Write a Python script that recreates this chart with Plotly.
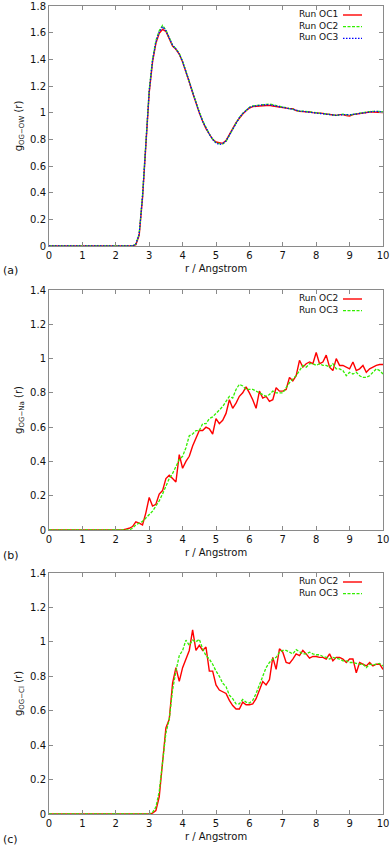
import plotly.graph_objects as go

# ---------------- data ----------------
r = [round(i * 0.1, 1) for i in range(101)]

# panel (a): g_OG-OW(r)
a_oc1 = [0]*26 + [
    0.01, 0.08, 0.36, 0.80, 1.15, 1.38, 1.52, 1.595, 1.625, 1.61,
    1.56, 1.50, 1.475, 1.44, 1.38, 1.31, 1.23, 1.15, 1.07, 1.00,
    0.935, 0.88, 0.84, 0.80, 0.78, 0.775, 0.77, 0.79, 0.83, 0.88,
    0.925, 0.96, 0.99, 1.015, 1.035, 1.045, 1.05, 1.05, 1.052, 1.055,
    1.055, 1.05, 1.045, 1.04, 1.04, 1.035, 1.03, 1.03, 1.015, 1.01,
    1.01, 1.005, 1.005, 1.0, 1.0, 0.995, 0.995, 0.99, 0.985, 0.985,
    0.98, 0.985, 0.985, 0.978, 0.975, 0.985, 0.99, 0.995, 1.0, 1.0,
    1.005, 1.005, 1.005, 1.0, 1.0]
a_oc2 = [0]*26 + [
    0.015, 0.09, 0.38, 0.82, 1.17, 1.40, 1.54, 1.615, 1.655, 1.62,
    1.565, 1.505, 1.48, 1.445, 1.385, 1.315, 1.235, 1.155, 1.075, 1.005,
    0.94, 0.885, 0.84, 0.80, 0.775, 0.768, 0.765, 0.785, 0.83, 0.885,
    0.93, 0.965, 0.995, 1.02, 1.04, 1.05, 1.055, 1.058, 1.06, 1.062,
    1.065, 1.06, 1.052, 1.045, 1.042, 1.038, 1.032, 1.028, 1.02, 1.012,
    1.012, 1.008, 1.005, 1.0, 0.998, 0.995, 0.993, 0.99, 0.985, 0.982,
    0.98, 0.983, 0.988, 0.985, 0.982, 0.988, 0.993, 0.998, 1.002, 1.005,
    1.008, 1.01, 1.012, 1.01, 1.005]
a_oc3 = [0]*26 + [
    0.015, 0.09, 0.37, 0.81, 1.16, 1.39, 1.53, 1.605, 1.645, 1.615,
    1.56, 1.505, 1.478, 1.44, 1.382, 1.312, 1.232, 1.152, 1.072, 1.0,
    0.935, 0.882, 0.838, 0.80, 0.772, 0.762, 0.768, 0.788, 0.832, 0.885,
    0.93, 0.963, 0.993, 1.018, 1.038, 1.048, 1.053, 1.055, 1.058, 1.06,
    1.06, 1.056, 1.05, 1.044, 1.04, 1.036, 1.03, 1.026, 1.018, 1.012,
    1.01, 1.006, 1.003, 1.0, 0.997, 0.994, 0.992, 0.988, 0.984, 0.982,
    0.98, 0.984, 0.986, 0.985, 0.983, 0.987, 0.992, 0.996, 1.0, 1.004,
    1.006, 1.008, 1.01, 1.008, 1.004]

# panel (b): g_OG-Na(r)
b_oc2 = [0]*23 + [
    0.005, 0.01, 0.02, 0.048, 0.04, 0.03, 0.10, 0.19, 0.14, 0.15,
    0.21, 0.23, 0.30, 0.32, 0.30, 0.28, 0.44, 0.36, 0.40, 0.43,
    0.49, 0.54, 0.58, 0.58, 0.60, 0.59, 0.56, 0.65, 0.62, 0.64,
    0.68, 0.76, 0.71, 0.74, 0.78, 0.80, 0.835, 0.80, 0.76, 0.71,
    0.81, 0.77, 0.78, 0.75, 0.76, 0.83, 0.81, 0.81, 0.82, 0.89,
    0.87, 0.90, 0.99, 0.95, 0.97, 0.98, 0.97, 1.035, 0.97, 0.98,
    1.02, 0.95, 0.93, 1.00, 0.96, 0.96, 0.95, 0.94, 0.98, 0.93,
    0.94, 0.96, 0.92, 0.94, 0.95, 0.96, 0.965, 0.965]
b_oc3 = [0]*25 + [
    0.01, 0.03, 0.04, 0.05, 0.07, 0.09, 0.11, 0.14, 0.17, 0.21,
    0.26, 0.30, 0.33, 0.37, 0.41, 0.43, 0.48, 0.55, 0.56, 0.58,
    0.58, 0.62, 0.62, 0.65, 0.66, 0.68, 0.70, 0.72, 0.75, 0.78,
    0.77, 0.82, 0.85, 0.84, 0.82, 0.82, 0.82, 0.81, 0.80, 0.79,
    0.78, 0.79, 0.81, 0.80, 0.80, 0.80, 0.83, 0.86, 0.88, 0.90,
    0.93, 0.96, 0.95, 0.97, 0.97, 0.96, 0.97, 0.96, 0.96, 0.95,
    0.97, 0.94, 0.94, 0.93, 0.90, 0.92, 0.91, 0.92, 0.90, 0.89,
    0.89, 0.90, 0.92, 0.94, 0.93, 0.91]

# panel (c): g_OG-Cl(r)
c_oc2 = [0]*31 + [
    0.005, 0.02, 0.10, 0.30, 0.50, 0.55, 0.76, 0.85, 0.77, 0.85,
    0.90, 0.95, 1.07, 0.95, 0.98, 0.95, 0.97, 0.83, 0.83, 0.75,
    0.72, 0.71, 0.70, 0.66, 0.63, 0.61, 0.61, 0.65, 0.635, 0.635,
    0.64, 0.67, 0.72, 0.77, 0.75, 0.78, 0.91, 0.84, 0.96, 0.94,
    0.88, 0.875, 0.90, 0.93, 0.92, 0.95, 0.93, 0.905, 0.915, 0.915,
    0.91, 0.91, 0.90, 0.93, 0.89, 0.91, 0.91, 0.90, 0.88, 0.90,
    0.90, 0.82, 0.88, 0.87, 0.86, 0.88, 0.86, 0.87, 0.87, 0.84]
c_oc3 = [0]*31 + [
    0.01, 0.04, 0.13, 0.30, 0.47, 0.55, 0.72, 0.83, 0.92, 0.95,
    1.01, 0.98, 1.01, 1.00, 1.015, 0.96, 0.92, 0.90, 0.87, 0.83,
    0.80, 0.76, 0.74, 0.69, 0.67, 0.64, 0.64, 0.665, 0.65, 0.645,
    0.66, 0.70, 0.75, 0.81, 0.85, 0.88, 0.90, 0.91, 0.94, 0.95,
    0.95, 0.94, 0.93, 0.955, 0.94, 0.93, 0.93, 0.94, 0.93, 0.925,
    0.925, 0.915, 0.91, 0.90, 0.91, 0.905, 0.90, 0.89, 0.89, 0.88,
    0.88, 0.875, 0.87, 0.87, 0.85, 0.87, 0.865, 0.87, 0.875, 0.86]

x_ticks = list(range(0, 11))
y_ticks_a = [0, 0.2, 0.4, 0.6, 0.8, 1, 1.2, 1.4, 1.6, 1.8]
y_ticks_bc = [0, 0.2, 0.4, 0.6, 0.8, 1, 1.2, 1.4]

# ---------------- styling ----------------
W, H = 392, 846
RED = "#ff0000"
GREEN = "#33ee00"
BLUE = "#0000ff"
FONT = "DejaVu Sans"
AX = "#8a8a8a"
TXT = "#111111"


def px_x(px):
    return px / W


def px_y(py):
    return 1 - py / H


panels = [(6, 246), (290, 530), (573, 814)]
x0px, x1px = 49, 383

styles = {
    "OC1": dict(color=RED, width=1.4, dash="solid"),
    "OC2g": dict(color=GREEN, width=1.3, dash="3px,1.5px"),
    "OC3b": dict(color=BLUE, width=1.3, dash="1.5px,1.5px"),
    "OC2r": dict(color=RED, width=1.4, dash="solid"),
    "OC3g": dict(color=GREEN, width=1.3, dash="3px,1.5px"),
}

fig = go.Figure()
traces = [
    (a_oc1, "Run OC1", "OC1", "x", "y"),
    (a_oc2, "Run OC2", "OC2g", "x", "y"),
    (a_oc3, "Run OC3", "OC3b", "x", "y"),
    (b_oc2, "Run OC2", "OC2r", "x2", "y2"),
    (b_oc3, "Run OC3", "OC3g", "x2", "y2"),
    (c_oc2, "Run OC2", "OC2r", "x3", "y3"),
    (c_oc3, "Run OC3", "OC3g", "x3", "y3"),
]
for vals, name, st, xa, ya in traces:
    fig.add_trace(go.Scatter(x=r, y=vals, mode="lines", name=name,
                             line=styles[st], xaxis=xa, yaxis=ya,
                             showlegend=False))

tickfont = dict(family=FONT, size=10, color=TXT)
common_x = dict(range=[0, 10], tickvals=x_ticks, ticks="inside", ticklen=4,
                showline=True, linecolor=AX, linewidth=1, mirror="ticks",
                tickcolor=AX, showgrid=False, zeroline=False,
                tickfont=tickfont, ticklabeloverflow="allow",
                domain=[px_x(x0px), px_x(x1px)],
                title=dict(text="r / Angstrom", font=tickfont, standoff=4))
common_y = dict(ticks="inside", ticklen=4, showline=True, linecolor=AX,
                linewidth=1, mirror="ticks", tickcolor=AX, showgrid=False,
                zeroline=False, tickfont=tickfont, ticklabeloverflow="allow")

ylabels = ["g<sub>OG−OW</sub> (r)", "g<sub>OG−Na</sub> (r)", "g<sub>OG−Cl</sub> (r)"]
ranges = [[0, 1.8], [0, 1.4], [0, 1.4]]
tickss = [y_ticks_a, y_ticks_bc, y_ticks_bc]

layout = dict(width=W, height=H, margin=dict(l=0, r=0, t=0, b=0, autoexpand=False),
              paper_bgcolor="white", plot_bgcolor="white", showlegend=False)
for i, (top, bot) in enumerate(panels):
    sx = "" if i == 0 else str(i + 1)
    layout["xaxis" + sx] = dict(common_x, anchor="y" + sx)
    layout["yaxis" + sx] = dict(common_y, range=ranges[i], tickvals=tickss[i],
                                anchor="x" + sx,
                                domain=[px_y(bot), px_y(top)],
                                title=dict(text=ylabels[i], font=tickfont,
                                           standoff=5))
fig.update_layout(**layout)

letters = ["(a)", "(b)", "(c)"]
legends = [
    [("Run OC1", "OC1"), ("Run OC2", "OC2g"), ("Run OC3", "OC3b")],
    [("Run OC2", "OC2r"), ("Run OC3", "OC3g")],
    [("Run OC2", "OC2r"), ("Run OC3", "OC3g")],
]
LEG_FS = 9
LEG_STEP = LEG_FS * 1.3
annots = []
shapes = []
for i, (top, bot) in enumerate(panels):
    annots.append(dict(x=px_x(1), y=px_y(bot + 25), xref="paper", yref="paper",
                       text=letters[i], showarrow=False,
                       font=dict(family=FONT, size=11, color=TXT),
                       xanchor="left", yanchor="middle"))
    entries = legends[i]
    first_y = top + 9
    annots.append(dict(x=px_x(339), y=px_y(first_y - LEG_STEP / 2 - 1),
                       xref="paper", yref="paper",
                       text="<br>".join(t for t, _ in entries), showarrow=False,
                       align="right", borderpad=0,
                       font=dict(family=FONT, size=LEG_FS, color=TXT),
                       xanchor="right", yanchor="top"))
    for j, (_, st) in enumerate(entries):
        ly = first_y + j * LEG_STEP
        shapes.append(dict(type="line", xref="paper", yref="paper",
                           x0=px_x(343), x1=px_x(362), y0=px_y(ly), y1=px_y(ly),
                           line=styles[st]))
fig.update_layout(annotations=annots, shapes=shapes)

fig.write_html("out.html",
               config={"displayModeBar": False, "staticPlot": True},
               post_script="document.body.style.margin='0';"
                           "document.body.style.overflow='hidden';")
